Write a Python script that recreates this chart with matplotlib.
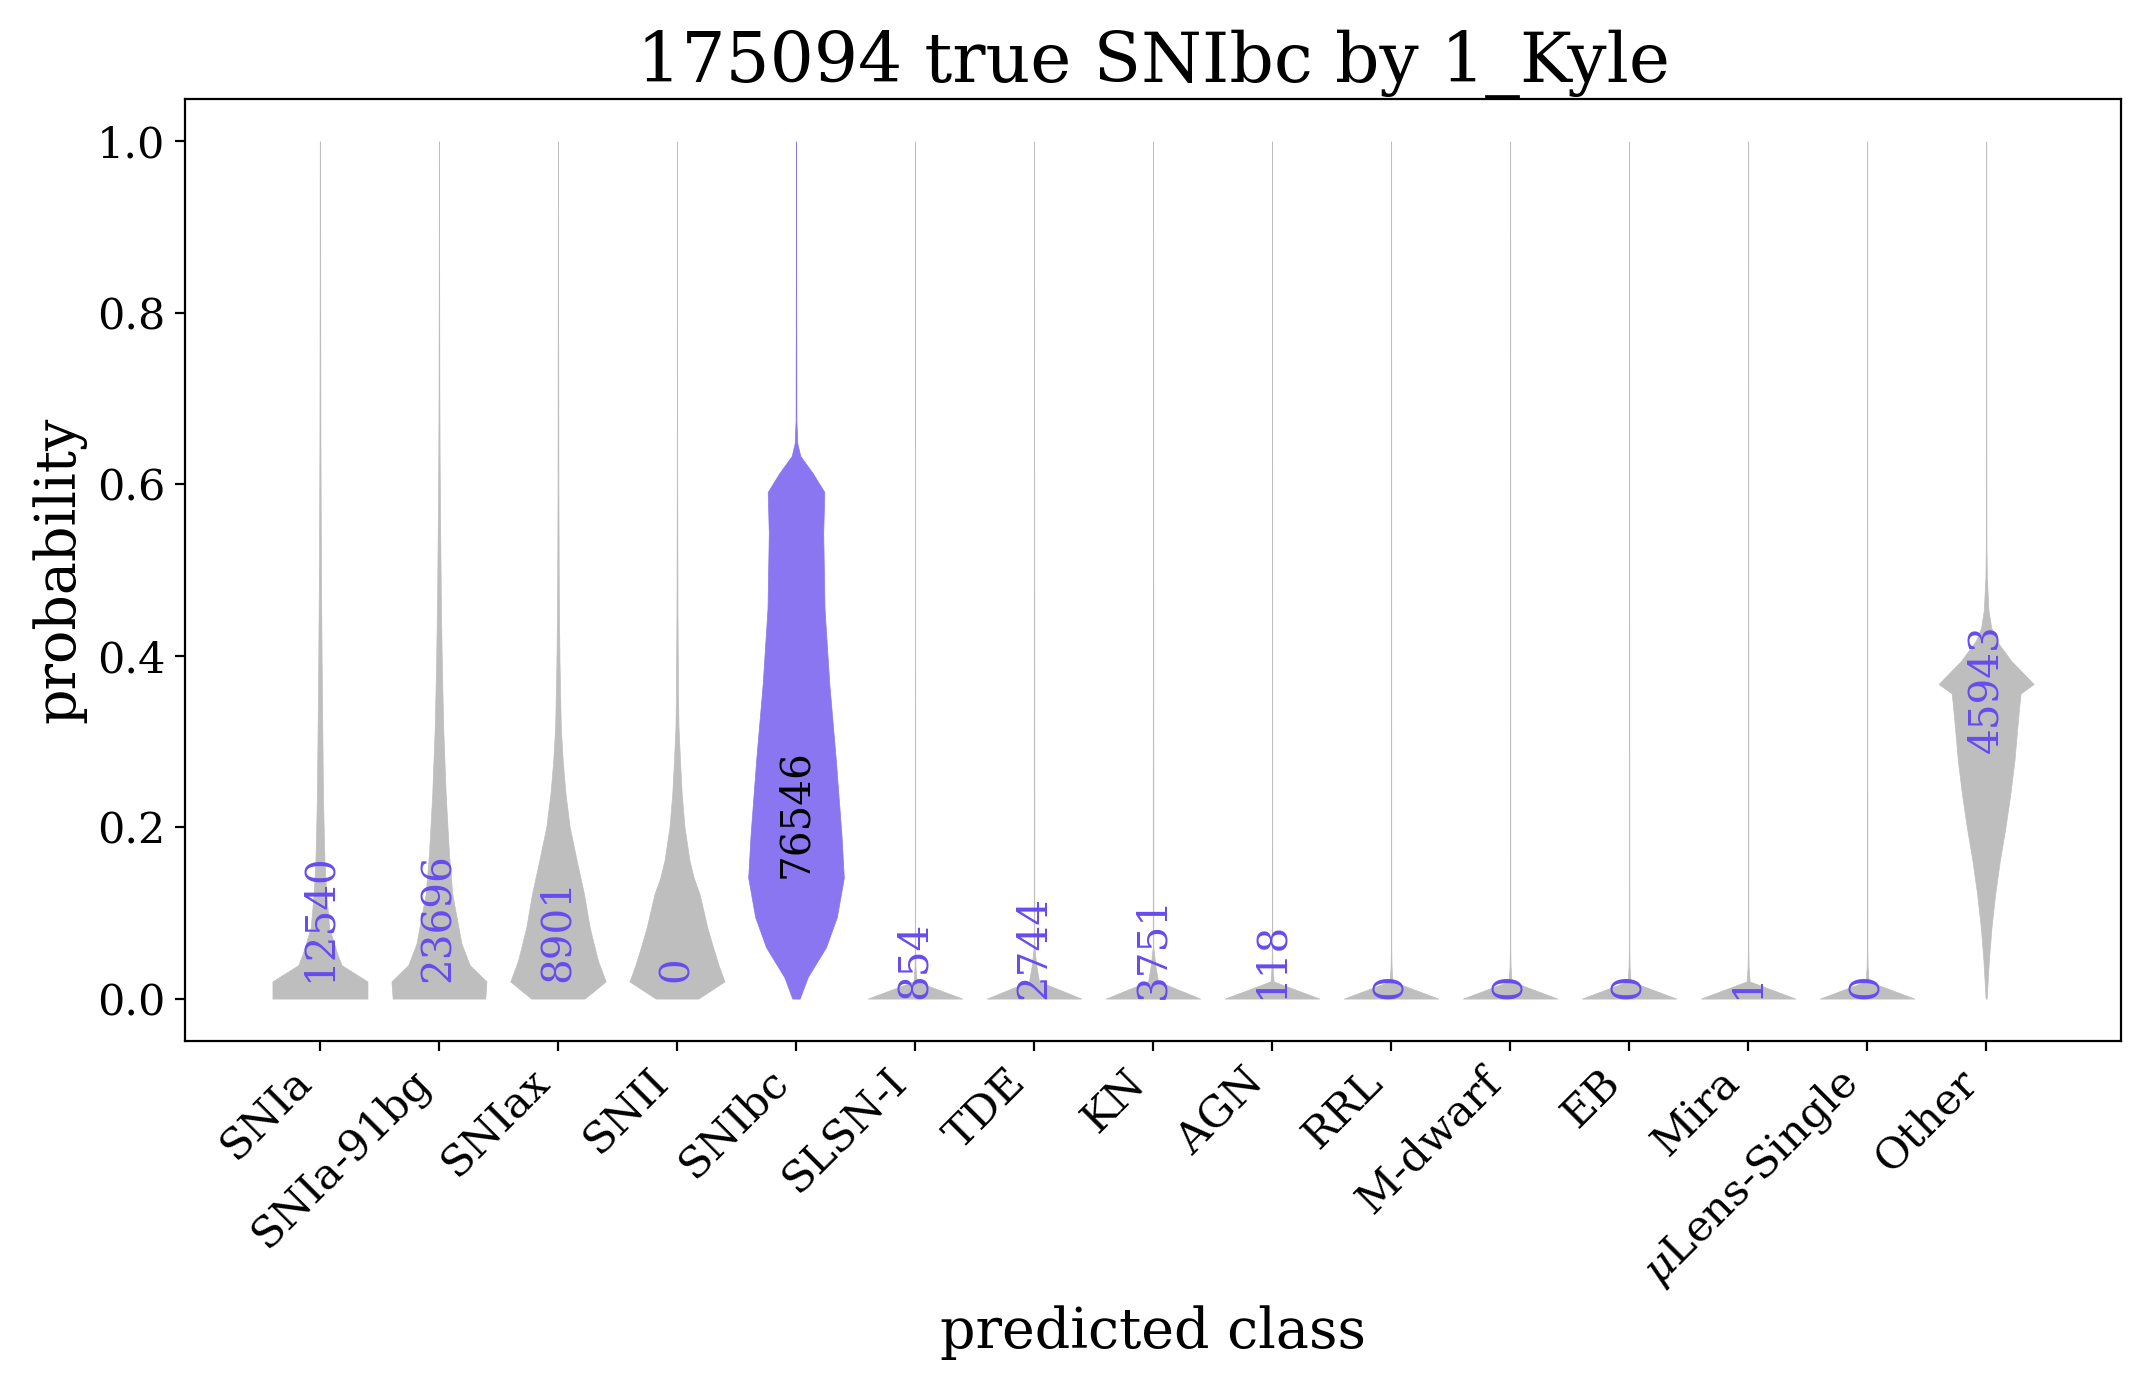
import numpy as np
import matplotlib
matplotlib.use('Agg')
import matplotlib.pyplot as plt

plt.rcParams['font.family'] = 'serif'
plt.rcParams['font.serif'] = ['DejaVu Serif']
plt.rcParams['mathtext.fontset'] = 'dejavuserif'

# predicted classes along x, true class is SNIbc
classes = ['SNIa', 'SNIa-91bg', 'SNIax', 'SNII', 'SNIbc', 'SLSN-I', 'TDE', 'KN',
           'AGN', 'RRL', 'M-dwarf', 'EB', 'Mira', r'$\mu$Lens-Single', 'Other']
true_class = 'SNIbc'
n_true = 175094
counts = [12540, 23696, 8901, 0, 76546, 854, 2744, 3751, 118, 0, 0, 0, 1, 0, 45943]

# violin profiles: probability grid + half-width (px at 200 dpi,
# one class spacing = 119 px)
prob_snia = [0, 0.02, 0.039, 0.052, 0.083, 0.122, 0.161, 0.2, 0.24, 0.32, 0.39, 0.47, 0.55, 0.65, 0.8, 1.0]
hw_snia = [47.5, 47.5, 21.7, 17.3, 9.2, 6.3, 4.5, 3.7, 3.0, 2.3, 1.7, 1.2, 0.8, 0.5, 0.3, 0.2]

prob_91bg = [0, 0.02, 0.039, 0.064, 0.122, 0.169, 0.239, 0.317, 0.394, 0.472, 0.55, 0.62, 0.7, 0.85, 1.0]
hw_91bg = [46.3, 47.5, 30.8, 22.5, 13.3, 10, 6.7, 4.2, 2.8, 1.8, 1.2, 0.7, 0.4, 0.2, 0.1]

prob_sniax = [0, 0.02, 0.044, 0.083, 0.122, 0.161, 0.2, 0.239, 0.278, 0.317, 0.394, 0.47, 0.6, 0.8, 1.0]
hw_sniax = [26.7, 47.7, 40, 31.7, 26, 18.7, 11.7, 7.5, 4.7, 2.8, 1.5, 0.8, 0.4, 0.2, 0.1]

prob_snii = [0, 0.02, 0.0385, 0.064, 0.083, 0.122, 0.141, 0.161, 0.2, 0.239, 0.278, 0.317, 0.356, 0.45, 0.6, 1.0]
hw_snii = [21.3, 47.5, 41.7, 35, 30.3, 22.5, 16.7, 12.5, 7.5, 4.7, 3, 1.5, 1, 0.5, 0.2, 0.1]

prob_snibc = [0, 0.025, 0.06, 0.095, 0.141, 0.19, 0.28, 0.367, 0.455, 0.543, 0.591, 0.613, 0.633, 0.648, 0.674, 0.8, 1.0]
hw_snibc = [3.7, 11.7, 30, 40.8, 47.8, 45.5, 39.7, 33.3, 28.5, 27.2, 28.3, 16.7, 4.3, 1.3, 0.4, 0.2, 0.1]

prob_small = [0, 0.02, 0.037, 0.06, 1.0]
hw_flat = [47.2, 1.5, 0.5, 0.2, 0.1]
hw_spike = [47.2, 5, 2.5, 0.3, 0.1]

prob_other = [0, 0.044, 0.083, 0.122, 0.161, 0.2, 0.239, 0.278, 0.317, 0.348, 0.356, 0.367,
              0.394, 0.418, 0.433, 0.453, 0.492, 0.53, 0.7, 1.0]
hw_other = [0.5, 2.7, 5.3, 9, 13.7, 19.3, 24.2, 28.3, 31.2, 33.7, 34.5, 47.5,
            25, 10, 5, 2.3, 0.7, 0.3, 0.15, 0.1]

profiles = [
    (prob_snia, hw_snia), (prob_91bg, hw_91bg), (prob_sniax, hw_sniax), (prob_snii, hw_snii),
    (prob_snibc, hw_snibc), (prob_small, hw_flat), (prob_small, hw_spike), (prob_small, hw_spike),
    (prob_small, hw_flat), (prob_small, hw_flat), (prob_small, hw_flat), (prob_small, hw_flat),
    (prob_small, hw_flat), (prob_small, hw_flat), (prob_other, hw_other),
]

# where each count label starts (bottom of rotated text)
count_y = [0.019, 0.019, 0.019, 0.019, 0.141, 0, 0, 0, 0, 0, 0, 0, 0, 0, 0.287]

PX_PER_CLASS = 119.0
GRAY = '#bebebe'
PURPLE = '#8a76f0'
TEXT_PURPLE = '#664bf0'

fig = plt.figure(figsize=(10.73, 6.93), dpi=200)
ax = fig.add_axes([0.0862, 0.2486, 0.9022, 0.6803])

positions = np.arange(len(classes))
vpstats = []
widths = []
for (p, hw) in profiles:
    p = np.array(p, dtype=float)
    hw = np.array(hw, dtype=float) / PX_PER_CLASS
    vpstats.append({'coords': p, 'vals': hw, 'mean': 0.0, 'median': 0.0,
                    'min': p.min(), 'max': p.max()})
    widths.append(2 * hw.max())

parts = ax.violin(vpstats, positions=positions, widths=widths, showextrema=False)
for j, body in enumerate(parts['bodies']):
    col = PURPLE if classes[j] == true_class else GRAY
    body.set_facecolor(col)
    body.set_edgecolor(col)
    body.set_alpha(1)
    body.set_linewidth(0.25)

for j, (c, y) in enumerate(zip(counts, count_y)):
    col = 'black' if classes[j] == true_class else TEXT_PURPLE
    ax.text(positions[j], y, str(c), rotation=90, ha='center', va='bottom',
            fontsize=14.6, color=col)

ax.set_xlim(-1.134, len(classes) - 1 + 1.134)
ax.set_ylim(-0.05, 1.05)
ax.set_xticks(positions)
ax.set_xticklabels(classes, rotation=45, ha='right')
ax.set_yticks(np.arange(0, 1.01, 0.2))
ax.tick_params(labelsize=15.5)
ax.set_xlabel('predicted class', fontsize=20)
ax.set_ylabel('probability', fontsize=20)
ax.set_title(f'{n_true} true {true_class} by 1_Kyle', fontsize=25)

fig.savefig('out.png', dpi=200)
